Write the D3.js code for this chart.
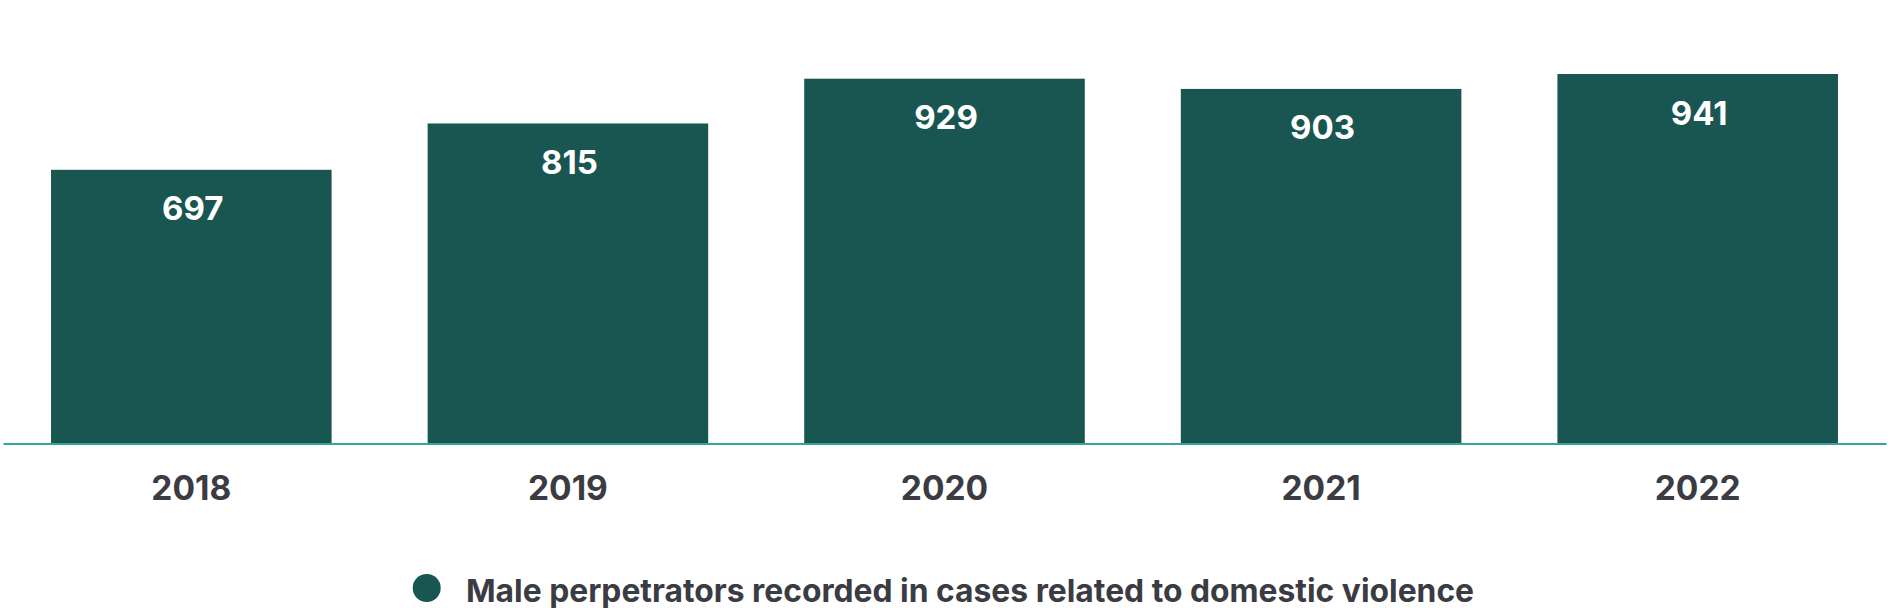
<!DOCTYPE html>
<html>
<head>
<meta charset="utf-8">
<script src="https://cdn.jsdelivr.net/npm/d3@7"></script>
<style>
  body { margin: 0; background: #fff; }
  text { font-family: Inter, "Noto Sans", sans-serif; font-weight: 700; }
</style>
</head>
<body>
<div id="chart"></div>
<script>
(function () {

  // Data
  const years = ["2018", "2019", "2020", "2021", "2022"]
  const values = [697, 815, 929, 903, 941]
  const seriesName = "Male perpetrators recorded in cases related to domestic violence"

  const width = 1888
  const height = 608
  const baseline = 443.5

  const svg = d3.select("#chart").append("svg")
    .attr("width", width)
    .attr("height", height)

  // Scales
  const xPositionScale = d3.scaleBand()
    .domain(years)
    .range([3, 1886])
    .paddingInner(0.255)
    .paddingOuter(0.1275)

  const yPositionScale = d3.scaleLinear()
    .domain([0, 941])
    .range([baseline, 74])

  const rows = years.map((y, i) => ({ year: y, value: values[i] }))

  // Bars
  svg.selectAll('rect.bar')
    .data(rows)
    .join('rect')
    .attr('class', 'bar')
    .attr('x', d => xPositionScale(d.year))
    .attr('width', xPositionScale.bandwidth())
    .attr('y', d => yPositionScale(d.value))
    .attr('height', d => baseline - yPositionScale(d.value))
    .attr('fill', '#1a5651')

  // Value labels
  svg.selectAll('text.value')
    .data(rows)
    .join('text')
    .attr('class', 'value')
    .attr('x', d => xPositionScale(d.year) + xPositionScale.bandwidth() / 2 + 1.5)
    .attr('y', d => yPositionScale(d.value) + 50.5)
    .attr('text-anchor', 'middle')
    .attr('font-size', 33)
    .attr('fill', '#ffffff')
    .text(d => d.value)

  // x axis
  const xAxis = d3.axisBottom(xPositionScale).tickSize(0).tickPadding(0)
  const gx = svg.append("g")
    .attr("transform", `translate(0, ${baseline})`)
    .call(xAxis)
  gx.select(".domain").attr("stroke", "#35a59b").attr("stroke-width", 2.2)
  gx.selectAll(".tick text")
    .attr("dy", 0)
    .attr("y", 56.5)
    .attr("font-size", 33.5)
    .attr("font-family", "Inter, sans-serif")
    .attr("font-weight", 700)
    .attr("fill", "#3b3c43")

  // Legend
  const legend = svg.append("g")
  legend.append("circle")
    .attr("cx", 426.7)
    .attr("cy", 588)
    .attr("r", 14)
    .attr("fill", "#1a5651")
  legend.append("text")
    .attr("x", 466)
    .attr("y", 601.5)
    .attr("font-size", 31.8)
    .attr("fill", "#3b3c43")
    .text(seriesName)

})();
</script>
</body>
</html>
